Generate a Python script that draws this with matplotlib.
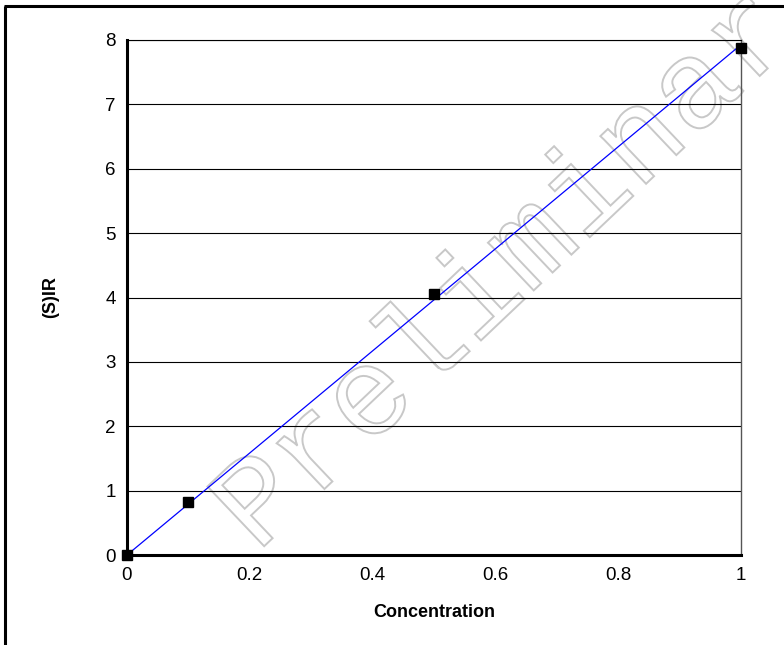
import numpy as np
import matplotlib
matplotlib.use("Agg")
import matplotlib.pyplot as plt
from matplotlib.textpath import TextPath
from matplotlib.patches import PathPatch
from matplotlib.font_manager import FontProperties
from matplotlib.transforms import Affine2D
from matplotlib.lines import Line2D

# Data
concentration = [0.0, 0.1, 0.5, 1.0]
sir = [0.0, 0.83, 4.05, 7.88]
x_ticks = [0, 0.2, 0.4, 0.6, 0.8, 1]
x_tick_labels = ["0", "0.2", "0.4", "0.6", "0.8", "1"]
y_ticks = [0, 1, 2, 3, 4, 5, 6, 7, 8]
x_label = "Concentration"
y_label = "(S)IR"
watermark = "Preliminary"

plt.rcParams['font.family'] = ['Liberation Sans', 'DejaVu Sans']

W, H = 784, 645
fig = plt.figure(figsize=(W / 100, H / 100), dpi=100)
fig.patch.set_facecolor('white')

ax = fig.add_axes([127 / W, 1 - 555 / H, (741 - 127) / W, (555 - 40) / H])
ax.set_xlim(0, 1)
ax.set_ylim(0, 8)

# fit through origin
xa = np.array(concentration)
ya = np.array(sir)
slope = (xa * ya).sum() / (xa * xa).sum()
xf = np.array([0.0, 1.0])
ax.plot(xf, slope * xf, color='#0000ff', lw=0.9, zorder=3)
ax.plot(concentration, sir, 's', color='black', ms=6.5, zorder=4, clip_on=False)

ax.set_xticks(x_ticks)
ax.set_xticklabels(x_tick_labels)
ax.set_yticks(y_ticks)
ax.tick_params(axis='both', length=0, labelsize=13.5)
ax.tick_params(axis='x', pad=9)
ax.tick_params(axis='y', pad=8)
ax.yaxis.grid(True, color='black', lw=0.8)
ax.set_axisbelow(True)

for s in ['left', 'bottom']:
    ax.spines[s].set_linewidth(2.2)
    ax.spines[s].set_color('black')
ax.spines['right'].set_color('#555555')
ax.spines['right'].set_linewidth(1.0)
ax.spines['top'].set_color('black')
ax.spines['top'].set_linewidth(0.8)

ax.set_xlabel(x_label, fontsize=13, fontweight='bold', labelpad=14)
ax.set_ylabel(y_label, fontsize=13, fontweight='bold', labelpad=33)

# Watermark (outlined text)
fp = FontProperties(family='Liberation Mono')
em = 125.0
tp = TextPath((0, 0), watermark, size=em, prop=fp)
ang = 43.5
x0, y0 = 257, H - 553
tr = Affine2D().rotate_deg(ang).translate(x0, y0).scale(1 / 100.0) + fig.dpi_scale_trans
patch = PathPatch(tp, facecolor='none', edgecolor='#c8c8c8', lw=1.4, transform=tr,
                  zorder=0.2, clip_on=False)
ax.add_artist(patch)

# Figure border (left and top)
fig.add_artist(Line2D([5 / W, 5 / W], [0, 1 - 6 / H], color='black', lw=2.2,
                      transform=fig.transFigure, solid_capstyle='butt'))
fig.add_artist(Line2D([4 / W, 1], [1 - 6 / H, 1 - 6 / H], color='black', lw=2.2,
                      transform=fig.transFigure, solid_capstyle='butt'))

fig.savefig('out.png', dpi=100, facecolor='white')
